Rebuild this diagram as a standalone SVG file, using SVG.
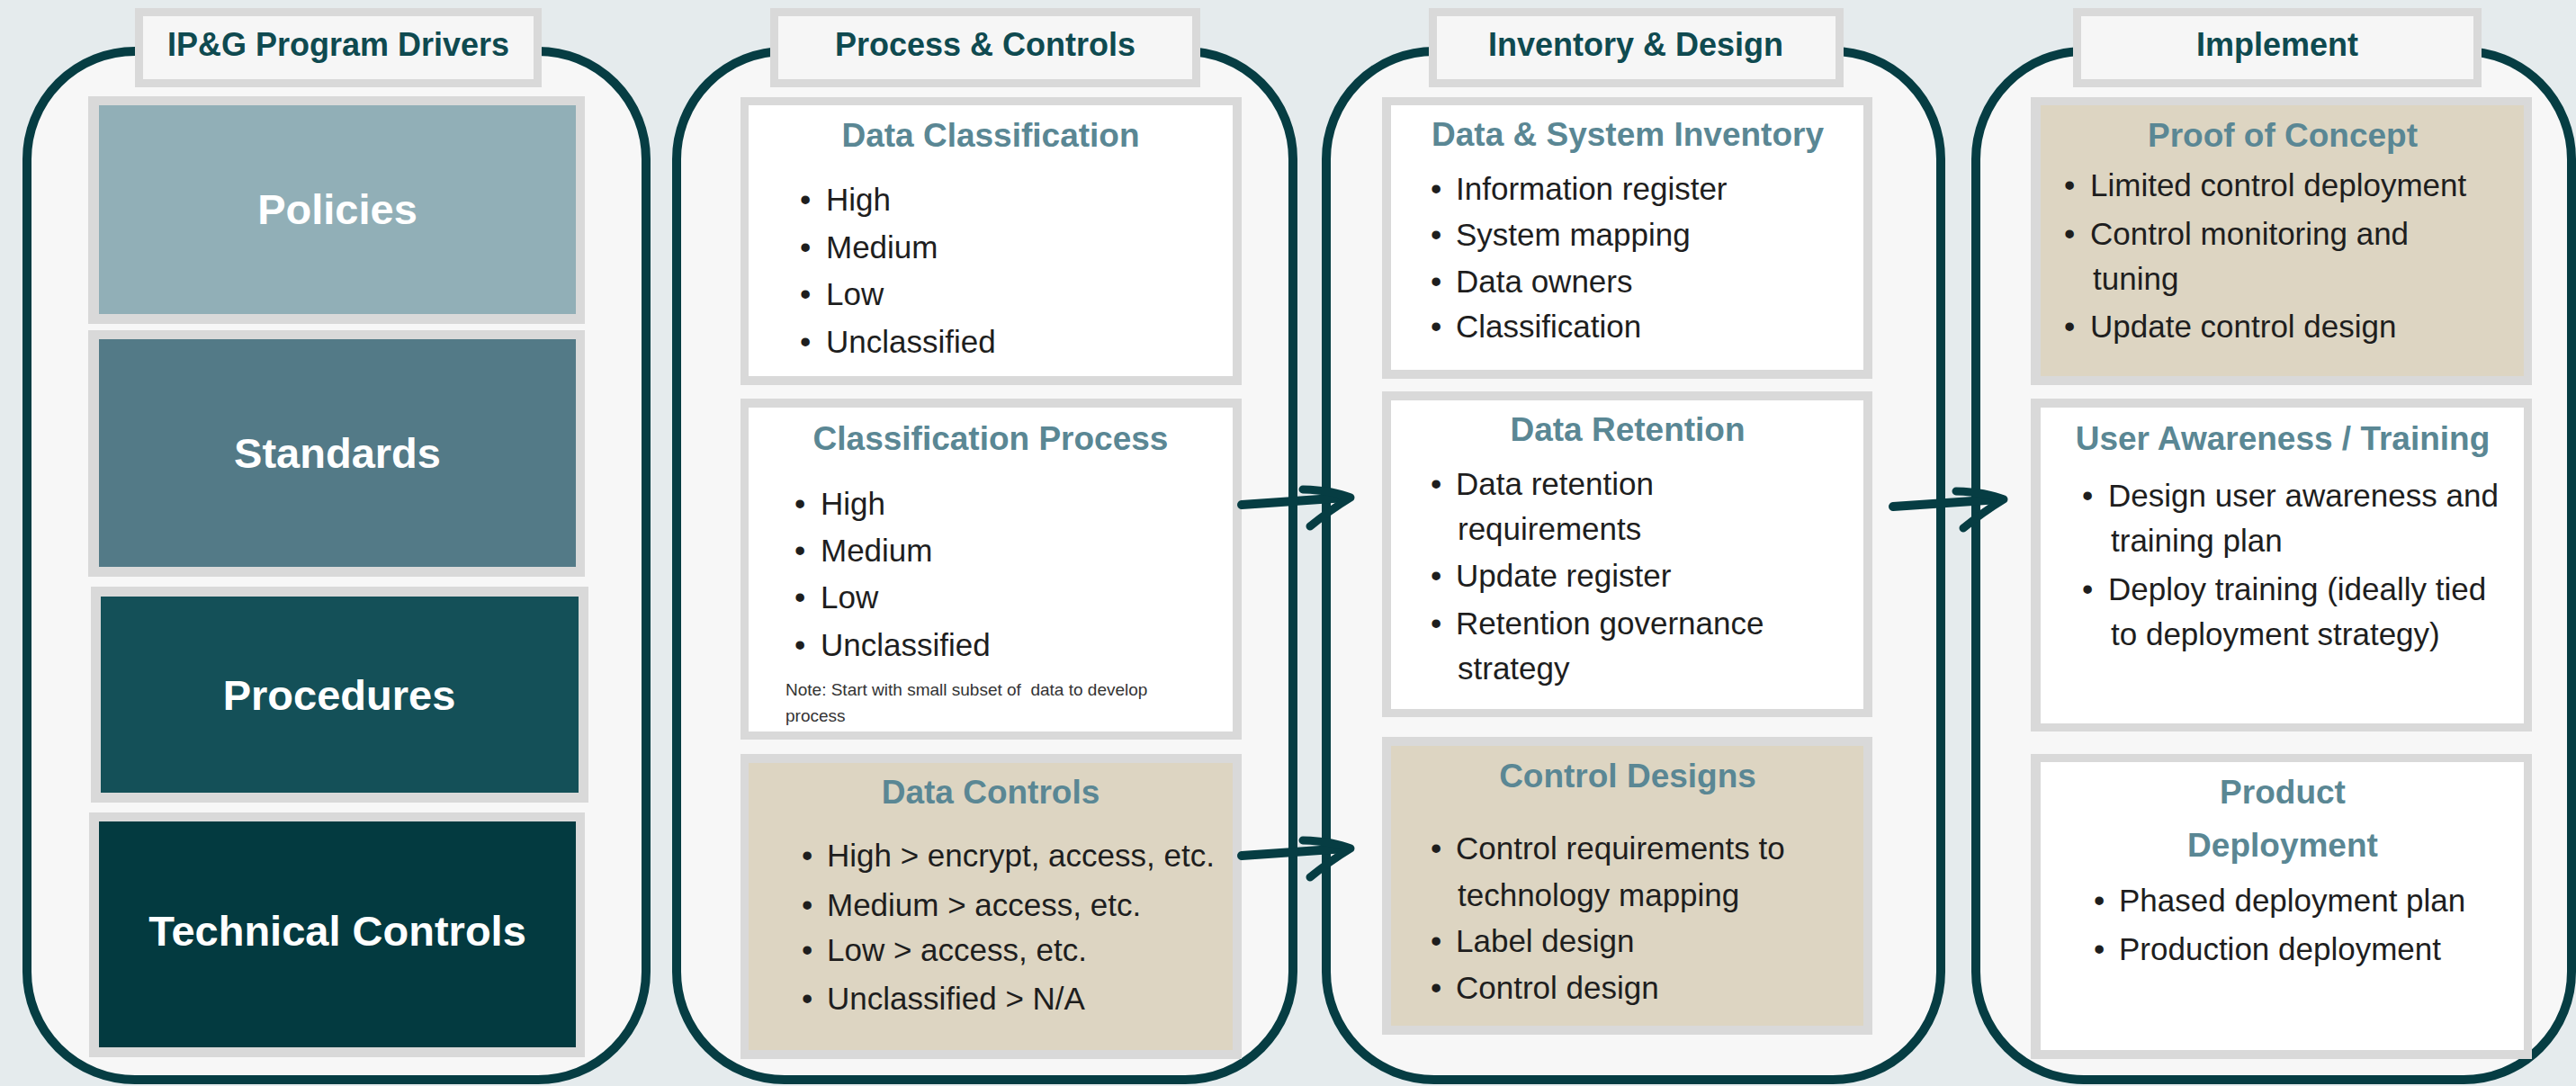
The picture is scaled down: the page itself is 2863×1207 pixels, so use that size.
<svg xmlns="http://www.w3.org/2000/svg" width="2863" height="1207" viewBox="0 0 2863 1207">
<defs>
<style>
.bg{fill:#e5ebed}
.col{fill:#f7f7f7;stroke:#063d43;stroke-width:10}
.hbox{fill:#f6f6f6;stroke:#d9d9d9;stroke-width:9}
.frame{fill:#d9d9d9}
.white{fill:#ffffff}
.tan{fill:#ddd5c2}
.hdr{font-family:'Liberation Sans',Arial,sans-serif;font-weight:bold;font-size:36px;fill:#0f4a50;text-anchor:middle}
.blk{font-family:'Liberation Sans',Arial,sans-serif;font-weight:bold;font-size:47px;fill:#ffffff;text-anchor:middle}
.ttl{font-family:'Liberation Sans',Arial,sans-serif;font-weight:bold;font-size:37px;fill:#5a8794;text-anchor:middle}
.bd{font-family:'Liberation Sans',Arial,sans-serif;font-size:35px;fill:#1e1e1e}
.note{font-family:'Liberation Sans',Arial,sans-serif;font-size:19px;fill:#333333;white-space:pre}
.arr{fill:none;stroke:#063d43;stroke-linecap:round;stroke-linejoin:round}
</style>
</defs>
<rect class="bg" x="0" y="0" width="2863" height="1207"/>

<!-- Column containers -->
<g id="col-drivers">
<rect class="col" x="30" y="57" width="688" height="1143" rx="120" ry="120"/>
<rect class="hbox" x="154.5" y="13.5" width="443" height="79"/>
<text class="hdr" x="376" y="62">IP&amp;G Program Drivers</text>
</g>
<g id="col-process">
<rect class="col" x="752" y="57" width="685" height="1143" rx="120" ry="120"/>
<rect class="hbox" x="860.5" y="13.5" width="469" height="79"/>
<text class="hdr" x="1095" y="62">Process &amp; Controls</text>
</g>
<g id="col-inventory">
<rect class="col" x="1474" y="57" width="683" height="1143" rx="120" ry="120"/>
<rect class="hbox" x="1592.5" y="13.5" width="452" height="79"/>
<text class="hdr" x="1818" y="62">Inventory &amp; Design</text>
</g>
<g id="col-implement">
<rect class="col" x="2196" y="57" width="662" height="1143" rx="120" ry="120"/>
<rect class="hbox" x="2308.5" y="13.5" width="445" height="79"/>
<text class="hdr" x="2531" y="62">Implement</text>
</g>

<!-- Column 1 blocks -->
<g id="policies">
<rect class="frame" x="98" y="107" width="552" height="253"/>
<rect x="110" y="117" width="530" height="232" fill="#91afb7"/>
<text class="blk" x="375" y="249">Policies</text>
</g>
<g id="standards">
<rect class="frame" x="98" y="367" width="552" height="274"/>
<rect x="110" y="377" width="530" height="253" fill="#537a87"/>
<text class="blk" x="375" y="520">Standards</text>
</g>
<g id="procedures">
<rect class="frame" x="101" y="652" width="553" height="240"/>
<rect x="112" y="663" width="531" height="218" fill="#145058"/>
<text class="blk" x="377" y="789">Procedures</text>
</g>
<g id="technical-controls">
<rect class="frame" x="99" y="903" width="551" height="272"/>
<rect x="110" y="913" width="530" height="251" fill="#033a40"/>
<text class="blk" x="375" y="1051">Technical Controls</text>
</g>

<!-- Column 2 boxes -->
<g id="data-classification">
<rect class="frame" x="823" y="108" width="557" height="320"/>
<rect class="white" x="832" y="117" width="538" height="301"/>
<text class="ttl" x="1101" y="163">Data Classification</text>
<text class="bd" x="889" y="234">•</text><text class="bd" x="918" y="234">High</text>
<text class="bd" x="889" y="287">•</text><text class="bd" x="918" y="287">Medium</text>
<text class="bd" x="889" y="339">•</text><text class="bd" x="918" y="339">Low</text>
<text class="bd" x="889" y="392">•</text><text class="bd" x="918" y="392">Unclassified</text>
</g>
<g id="classification-process">
<rect class="frame" x="823" y="443" width="557" height="379"/>
<rect class="white" x="832" y="453" width="538" height="360"/>
<text class="ttl" x="1101" y="500">Classification Process</text>
<text class="bd" x="883" y="572">•</text><text class="bd" x="912" y="572">High</text>
<text class="bd" x="883" y="624">•</text><text class="bd" x="912" y="624">Medium</text>
<text class="bd" x="883" y="676">•</text><text class="bd" x="912" y="676">Low</text>
<text class="bd" x="883" y="729">•</text><text class="bd" x="912" y="729">Unclassified</text>
<text class="note" x="873" y="773">Note: Start with small subset of  data to develop</text>
<text class="note" x="873" y="802">process</text>
</g>
<g id="data-controls">
<rect class="frame" x="823" y="838" width="557" height="339"/>
<rect class="tan" x="832" y="848" width="538" height="319"/>
<text class="ttl" x="1101" y="893">Data Controls</text>
<text class="bd" x="891" y="963">•</text><text class="bd" x="919" y="963">High &gt; encrypt, access, etc.</text>
<text class="bd" x="891" y="1018">•</text><text class="bd" x="919" y="1018">Medium &gt; access, etc.</text>
<text class="bd" x="891" y="1068">•</text><text class="bd" x="919" y="1068">Low &gt; access, etc.</text>
<text class="bd" x="891" y="1122">•</text><text class="bd" x="919" y="1122">Unclassified &gt; N/A</text>
</g>

<!-- Column 3 boxes -->
<g id="data-system-inventory">
<rect class="frame" x="1536" y="108" width="545" height="313"/>
<rect class="white" x="1546" y="117" width="525" height="294"/>
<text class="ttl" x="1809" y="162">Data &amp; System Inventory</text>
<text class="bd" x="1590" y="222">•</text><text class="bd" x="1618" y="222">Information register</text>
<text class="bd" x="1590" y="273">•</text><text class="bd" x="1618" y="273">System mapping</text>
<text class="bd" x="1590" y="325">•</text><text class="bd" x="1618" y="325">Data owners</text>
<text class="bd" x="1590" y="375">•</text><text class="bd" x="1618" y="375">Classification</text>
</g>
<g id="data-retention">
<rect class="frame" x="1536" y="435" width="545" height="362"/>
<rect class="white" x="1546" y="445" width="525" height="343"/>
<text class="ttl" x="1809" y="490">Data Retention</text>
<text class="bd" x="1590" y="550">•</text><text class="bd" x="1618" y="550">Data retention</text>
<text class="bd" x="1620" y="600">requirements</text>
<text class="bd" x="1590" y="652">•</text><text class="bd" x="1618" y="652">Update register</text>
<text class="bd" x="1590" y="705">•</text><text class="bd" x="1618" y="705">Retention governance</text>
<text class="bd" x="1620" y="755">strategy</text>
</g>
<g id="control-designs">
<rect class="frame" x="1536" y="819" width="545" height="331"/>
<rect class="tan" x="1546" y="829" width="525" height="311"/>
<text class="ttl" x="1809" y="875">Control Designs</text>
<text class="bd" x="1590" y="955">•</text><text class="bd" x="1618" y="955">Control requirements to</text>
<text class="bd" x="1620" y="1007">technology mapping</text>
<text class="bd" x="1590" y="1058">•</text><text class="bd" x="1618" y="1058">Label design</text>
<text class="bd" x="1590" y="1110">•</text><text class="bd" x="1618" y="1110">Control design</text>
</g>

<!-- Column 4 boxes -->
<g id="proof-of-concept">
<rect class="frame" x="2257" y="108" width="557" height="320"/>
<rect class="tan" x="2268" y="117" width="537" height="301"/>
<text class="ttl" x="2537" y="163">Proof of Concept</text>
<text class="bd" x="2294" y="218">•</text><text class="bd" x="2323" y="218">Limited control deployment</text>
<text class="bd" x="2294" y="272">•</text><text class="bd" x="2323" y="272">Control monitoring and</text>
<text class="bd" x="2326" y="322">tuning</text>
<text class="bd" x="2294" y="375">•</text><text class="bd" x="2323" y="375">Update control design</text>
</g>
<g id="user-awareness">
<rect class="frame" x="2257" y="443" width="557" height="370"/>
<rect class="white" x="2268" y="453" width="537" height="351"/>
<text class="ttl" x="2537" y="500">User Awareness / Training</text>
<text class="bd" x="2314" y="563">•</text><text class="bd" x="2343" y="563">Design user awareness and</text>
<text class="bd" x="2346" y="613">training plan</text>
<text class="bd" x="2314" y="667">•</text><text class="bd" x="2343" y="667">Deploy training (ideally tied</text>
<text class="bd" x="2346" y="717">to deployment strategy)</text>
</g>
<g id="product-deployment">
<rect class="frame" x="2257" y="838" width="557" height="339"/>
<rect class="white" x="2268" y="847" width="537" height="320"/>
<text class="ttl" x="2537" y="893">Product</text>
<text class="ttl" x="2537" y="952">Deployment</text>
<text class="bd" x="2327" y="1013">•</text><text class="bd" x="2355" y="1013">Phased deployment plan</text>
<text class="bd" x="2327" y="1067">•</text><text class="bd" x="2355" y="1067">Production deployment</text>
</g>

<!-- Connectors -->
<g id="connectors">
<g id="arrow-1">
<path class="arr" stroke-width="10" d="M1380,561 Q1440,557 1496,553"/>
<path class="arr" stroke-width="9" d="M1448,544 Q1482,545 1501,553 Q1478,567 1456,585"/>
</g>
<g id="arrow-2">
<path class="arr" stroke-width="10" d="M1380,951 Q1440,947 1496,943"/>
<path class="arr" stroke-width="9" d="M1448,934 Q1482,935 1501,943 Q1478,957 1456,975"/>
</g>
<g id="arrow-3">
<path class="arr" stroke-width="10" d="M2104,563 Q2165,559 2222,555"/>
<path class="arr" stroke-width="9" d="M2174,546 Q2208,547 2227,555 Q2204,569 2182,587"/>
</g>
</g>
</svg>
